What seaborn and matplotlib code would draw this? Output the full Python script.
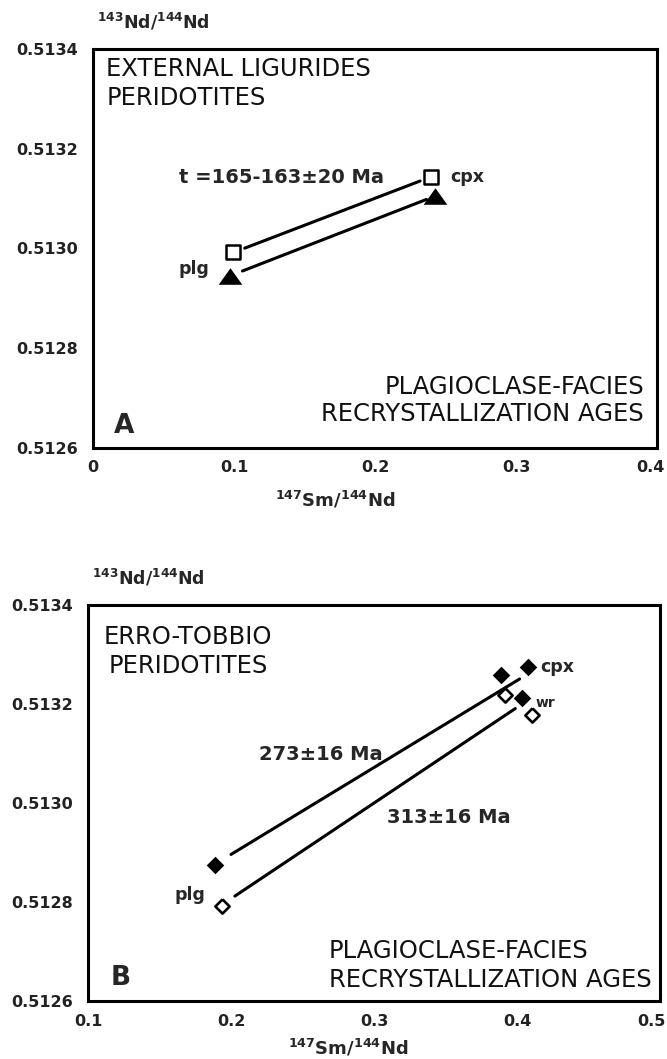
import numpy as np
import pandas as pd
import matplotlib
matplotlib.use("Agg")
import matplotlib.pyplot as plt
import matplotlib.transforms as mtransforms
import seaborn as sns

# ---------------- data ----------------
# common y axis
y_ticks = [0.5126, 0.5128, 0.5130, 0.5132, 0.5134]
y_ticklabels = ["0.5126", "0.5128", "0.5130", "0.5132", "0.5134"]

# Panel A : External Ligurides
a_xticks = [0.0, 0.1, 0.2, 0.3, 0.4]
a_xticklabels = ["0", "0.1", "0.2", "0.3", "0.4"]
a_minerals = ["plg", "cpx"]
a_sm_square = [0.0996, 0.2400]
a_nd_square = [0.512992, 0.513144]
a_sm_triangle = [0.0970, 0.2425]
a_nd_triangle = [0.512945, 0.513105]

# Panel B : Erro-Tobbio
b_xticks = [0.1, 0.2, 0.3, 0.4, 0.5]
b_xticklabels = ["0.1", "0.2", "0.3", "0.4", "0.5"]
b_minerals_filled = ["plg", "cpx", "cpx", "wr"]
b_sm_filled = [0.1890, 0.3890, 0.4078, 0.4033]
b_nd_filled = [0.512875, 0.513258, 0.513274, 0.513212]
b_minerals_open = ["plg", "cpx", "wr"]
b_sm_open = [0.1937, 0.3919, 0.4108]
b_nd_open = [0.512791, 0.513218, 0.513177]

# ---------------- style ----------------
sns.set_style("white")
plt.rcParams["font.family"] = ["DejaVu Sans"]
plt.rcParams["mathtext.fontset"] = "dejavusans"

TRI = [(-1.0, -0.7), (1.0, -0.7), (0.0, 0.7), (-1.0, -0.7)]
DIA = [(0.0, 1.0), (1.0, 0.0), (0.0, -1.0), (-1.0, 0.0), (0.0, 1.0)]
TITLE_FS = 17.5
LABEL_FS = 14

fig = plt.figure(figsize=(6.67, 10.59), dpi=100)
axA = fig.add_axes([93 / 667, 1 - 448 / 1059, 564 / 667, 399 / 1059])
axB = fig.add_axes([88 / 667, 1 - 1001 / 1059, 572 / 667, 396 / 1059])


def isochron(ax, x, y, trim0, trim1):
    slope, icpt = np.polyfit(x, y, 1)
    xs = np.array([min(x) + trim0, max(x) - trim1])
    df = pd.DataFrame({"x": xs, "y": icpt + slope * xs})
    sns.lineplot(data=df, x="x", y="y", ax=ax, color="black", lw=2.2,
                 estimator=None, sort=False, legend=False)


def style_axes(ax, xticks, xlabels, xlim, last_shift_px):
    ax.set_xlim(*xlim)
    ax.set_ylim(0.5126, 0.5134)
    ax.set_xticks(xticks)
    ax.set_xticklabels(xlabels)
    ax.set_yticks(y_ticks)
    ax.set_yticklabels(y_ticklabels)
    for s in ax.spines.values():
        s.set_linewidth(2.2)
        s.set_color("black")
    ax.tick_params(axis="both", direction="in", width=2, color="black",
                   labelsize=11.5, pad=11)
    ax.tick_params(axis="y", length=10)
    ax.tick_params(axis="x", length=9, pad=9)
    for lab in ax.get_xticklabels() + ax.get_yticklabels():
        lab.set_fontweight("bold")
        lab.set_color("#222222")
    last = ax.get_xticklabels()[-1]
    last.set_transform(last.get_transform() + mtransforms.ScaledTranslation(
        -last_shift_px / 100.0, 0, fig.dpi_scale_trans))
    ax.set_xlabel("")
    ax.set_ylabel("")
    ax.text(0.007, 1.068, r"$^{\mathbf{143}}$Nd/$^{\mathbf{144}}$Nd",
            transform=ax.transAxes, ha="left", va="center",
            fontsize=12.5, fontweight="bold")


# ---------------- Panel A ----------------
isochron(axA, a_sm_square, a_nd_square, 0.008, 0.008)
isochron(axA, a_sm_triangle, a_nd_triangle, 0.009, 0.006)
sns.scatterplot(x=a_sm_triangle, y=a_nd_triangle, ax=axA, marker=TRI, s=290,
                color="black", edgecolor="black", linewidth=0, zorder=3, legend=False)
sns.scatterplot(x=a_sm_square, y=a_nd_square, ax=axA, marker="s", s=90,
                color="white", edgecolor="black", linewidth=1.8, zorder=4, legend=False)
style_axes(axA, a_xticks, a_xticklabels, (0.0, 0.4), 7)

axA.text(0.0235, 0.951, "EXTERNAL LIGURIDES", transform=axA.transAxes,
         ha="left", va="center", fontsize=TITLE_FS, color="#111111")
axA.text(0.0235, 0.876, "PERIDOTITES", transform=axA.transAxes,
         ha="left", va="center", fontsize=TITLE_FS, color="#111111")
axA.text(0.152, 0.678, "t =165-163±20 Ma", transform=axA.transAxes,
         ha="left", va="center", fontsize=LABEL_FS, fontweight="bold")
axA.text(0.633, 0.678, a_minerals[1], transform=axA.transAxes,
         ha="left", va="center", fontsize=12.5, fontweight="bold")
axA.text(0.152, 0.448, a_minerals[0], transform=axA.transAxes,
         ha="left", va="center", fontsize=12.5, fontweight="bold")
axA.text(0.977, 0.153, "PLAGIOCLASE-FACIES", transform=axA.transAxes,
         ha="right", va="center", fontsize=TITLE_FS, color="#111111")
axA.text(0.977, 0.086, "RECRYSTALLIZATION AGES", transform=axA.transAxes,
         ha="right", va="center", fontsize=TITLE_FS, color="#111111")
axA.text(0.037, 0.055, "A", transform=axA.transAxes, ha="left", va="center",
         fontsize=19, fontweight="bold")
axA.text(0.43, -0.13, r"$^{\mathbf{147}}$Sm/$^{\mathbf{144}}$Nd", transform=axA.transAxes,
         ha="center", va="center", fontsize=13, fontweight="bold")

# ---------------- Panel B ----------------
isochron(axB, b_sm_filled, b_nd_filled, 0.011, 0.006)
isochron(axB, b_sm_open, b_nd_open, 0.009, 0.012)
sns.scatterplot(x=b_sm_filled, y=b_nd_filled, ax=axB, marker=DIA, s=160,
                color="black", edgecolor="black", linewidth=0, zorder=3, legend=False)
sns.scatterplot(x=b_sm_open, y=b_nd_open, ax=axB, marker=DIA, s=105,
                color="white", edgecolor="black", linewidth=1.9, zorder=4, legend=False)
style_axes(axB, b_xticks, b_xticklabels, (0.1, 0.5), 9)

axB.text(0.175, 0.920, "ERRO-TOBBIO", transform=axB.transAxes,
         ha="center", va="center", fontsize=TITLE_FS, color="#111111")
axB.text(0.175, 0.846, "PERIDOTITES", transform=axB.transAxes,
         ha="center", va="center", fontsize=TITLE_FS, color="#111111")
axB.text(0.79, 0.843, b_minerals_filled[1], transform=axB.transAxes,
         ha="left", va="center", fontsize=12.5, fontweight="bold")
axB.text(0.783, 0.753, b_minerals_filled[3], transform=axB.transAxes,
         ha="left", va="center", fontsize=10, fontweight="bold")
axB.text(0.299, 0.6225, "273±16 Ma", transform=axB.transAxes,
         ha="left", va="center", fontsize=LABEL_FS, fontweight="bold")
axB.text(0.523, 0.4625, "313±16 Ma", transform=axB.transAxes,
         ha="left", va="center", fontsize=LABEL_FS, fontweight="bold")
axB.text(0.152, 0.267, b_minerals_filled[0], transform=axB.transAxes,
         ha="left", va="center", fontsize=12.5, fontweight="bold")
axB.text(0.421, 0.1255, "PLAGIOCLASE-FACIES", transform=axB.transAxes,
         ha="left", va="center", fontsize=TITLE_FS, color="#111111")
axB.text(0.421, 0.054, "RECRYSTALLIZATION AGES", transform=axB.transAxes,
         ha="left", va="center", fontsize=TITLE_FS, color="#111111")
axB.text(0.04, 0.058, "B", transform=axB.transAxes, ha="left", va="center",
         fontsize=19, fontweight="bold")
axB.text(0.455, -0.118, r"$^{\mathbf{147}}$Sm/$^{\mathbf{144}}$Nd", transform=axB.transAxes,
         ha="center", va="center", fontsize=13, fontweight="bold")

fig.savefig("out.png", dpi=100)
